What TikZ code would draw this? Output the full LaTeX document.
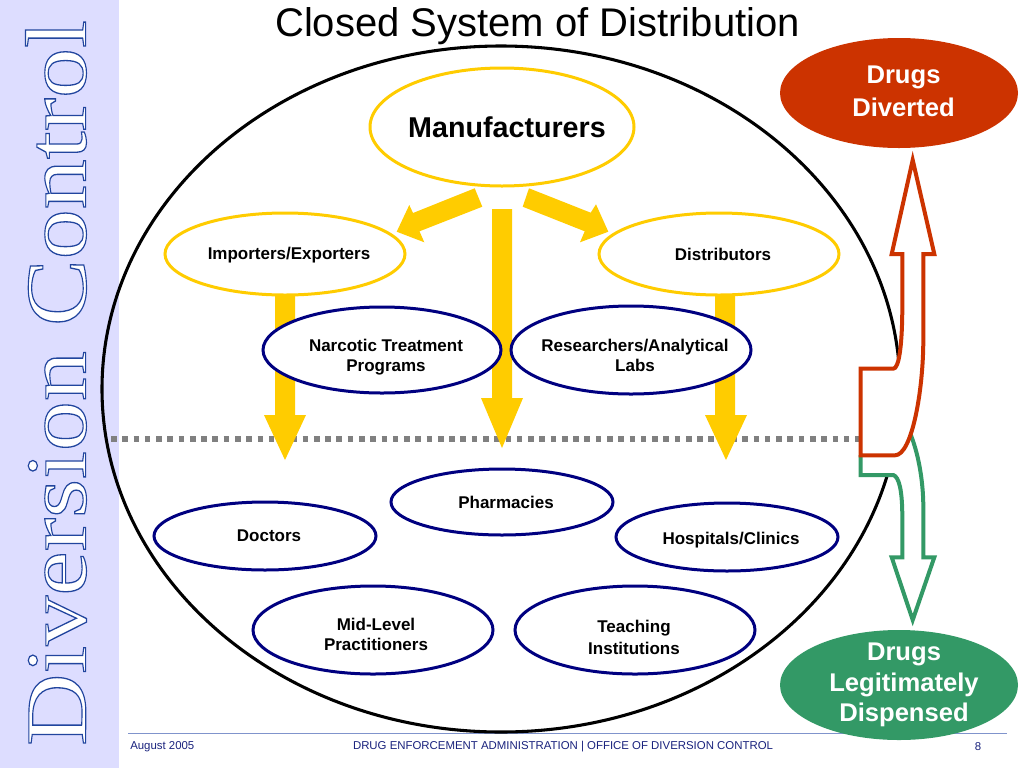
\documentclass[tikz,border=0pt]{standalone}
\usepackage{fontspec}
\usetikzlibrary{shapes.geometric}
\setmainfont{Liberation Sans}
\newfontfamily\outlinefont{Liberation Serif}
\definecolor{panel}{HTML}{DDDDFF}
\definecolor{ygold}{HTML}{FFCC00}
\definecolor{navyb}{HTML}{000080}
\definecolor{redb}{HTML}{CC3300}
\definecolor{greenb}{HTML}{339966}
\definecolor{graydot}{HTML}{808080}
\definecolor{footline}{HTML}{8094CC}
\definecolor{foottext}{HTML}{1A237E}
\newcommand{\fs}[2]{\fontsize{#1}{#2}\selectfont}
\tikzset{
  x=0.75pt,y=-0.75pt,
  oval/.style={ellipse,inner sep=0pt,outer sep=0pt},
  yoval/.style={oval,draw=ygold,line width=2.25pt,fill=white},
  noval/.style={oval,draw=navyb,line width=2.25pt,fill=white},
  lbl/.style={inner sep=0pt,align=center,font=\fs{12.75}{15}\bfseries,text=black},
  whitelbl/.style={inner sep=0pt,align=center,text=white,font=\fs{19.2}{24.5}\bfseries},
  blockarrow/.style={fill=ygold,draw=none},
  foot/.style={inner sep=0pt,font=\fs{8.56}{10},text=foottext},
}
\begin{document}
\begin{tikzpicture}
\useasboundingbox (0,0) rectangle (1024,768);
\fill[white] (0,0) rectangle (1024,768);
\fill[panel] (0,0) rectangle (119,768);
% outlined vertical title
\node[inner sep=0pt,rotate=90,xscale=1.155] (side) at (56,383)
 {\special{pdf:code q 2 Tr 0.85 w 0.13 0.27 0.62 RG 1 1 1 rg}\outlinefont\fontsize{65}{65}\selectfont Diversion Control\special{pdf:code Q}};
% footer rule
\coordinate (footA) at (128,733);
\coordinate (footB) at (1007,733);
\draw[footline,line width=0.75pt] (footA) -- (footB);
% big ellipse
\node[oval,draw=black,line width=2.3pt,minimum width=598.5pt,minimum height=514.5pt] (big) at (501,389) {};
% dotted line
\coordinate (dotA) at (111,439);
\coordinate (dotB) at (864,439);
\draw[graydot,line width=4.2pt,dash pattern=on 4.2pt off 4.255pt] (dotA) -- (dotB);
% yellow arrows
\fill[blockarrow] (474.7,188.3) -- (482.3,206.7) -- (419.5,231.3) -- (424.3,242.3) -- (396.7,231.7) -- (409.3,205) -- (413,213) -- cycle;
\fill[blockarrow] (529,188.3) -- (522.7,206.7) -- (584.7,231.3) -- (580,242.3) -- (608.3,231.7) -- (596,204.3) -- (590.7,212.7) -- cycle;
\fill[blockarrow] (492,209) -- (512,209) -- (512,398) -- (523,398) -- (502,448) -- (481,398) -- (492,398) -- cycle;
\fill[blockarrow] (275,290) -- (295,290) -- (295,415) -- (306,415) -- (285,460) -- (264,415) -- (275,415) -- cycle;
\fill[blockarrow] (715,290) -- (735,290) -- (735,415) -- (747,415) -- (726,460) -- (705,415) -- (715,415) -- cycle;
% ovals
\node[yoval,minimum width=198pt,minimum height=88.5pt] (manu) at (502,127) {};
\node[yoval,minimum width=180pt,minimum height=61.5pt] (impo) at (285,254) {};
\node[yoval,minimum width=180pt,minimum height=61.5pt] (dist) at (719,254) {};
\node[noval,minimum width=178.5pt,minimum height=64.5pt] (narc) at (382,350) {};
\node[noval,minimum width=180pt,minimum height=66pt] (rese) at (631,350) {};
\node[noval,minimum width=166.5pt,minimum height=49.5pt] (phar) at (502,502) {};
\node[noval,minimum width=166.5pt,minimum height=51pt] (doct) at (265,536) {};
\node[noval,minimum width=166.5pt,minimum height=51pt] (hosp) at (727,537) {};
\node[noval,minimum width=180pt,minimum height=66pt] (midl) at (373,630) {};
\node[noval,minimum width=180pt,minimum height=66pt] (teac) at (635,630) {};
\node[oval,fill=redb,minimum width=178.5pt,minimum height=82.5pt] (dive) at (899,93) {};
\node[oval,fill=greenb,minimum width=178.5pt,minimum height=82.5pt] (legi) at (899,685) {};
% green and red hollow arrows
\draw[greenb,line width=3pt,line join=miter,fill=white]
 (860.7,455) -- (860.7,475) -- (893.3,475) .. controls (899,477) and (902.3,490) .. (902.3,517)
 -- (902.3,557.3) -- (891.7,557.3) -- (912.7,620) -- (934.3,557.3) -- (923.3,557.3) -- (923.3,507)
 .. controls (923.3,480) and (918,452) .. (910,433);
\draw[redb,line width=3pt,line join=miter,fill=white]
 (912.7,160) -- (934.3,254) -- (923.3,254) -- (923.3,340)
 .. controls (923.3,390) and (912,455.3) .. (895,455.3)
 -- (860.7,455.3) -- (860.7,368.7) -- (893.3,368.7)
 .. controls (899,368.7) and (902.3,345) .. (902.3,306)
 -- (902.3,254) -- (891.7,254) -- cycle;
% title
\node[inner sep=0pt,font=\fs{30}{32},text=black] (title) at (537.5,26) {Closed System of Distribution};
% labels
\node[lbl,font=\fs{21.5}{24}\bfseries] (manuT) at (507,127) {Manufacturers};
\node[lbl] (impoT) at (289,255) {Importers/Exporters};
\node[lbl] (distT) at (723,254) {Distributors};
\node[lbl] (narcT) at (386,357) {Narcotic Treatment\\Programs};
\node[lbl] (reseT) at (635,355) {Researchers/Analytical\\Labs};
\node[lbl] (pharT) at (506,502) {Pharmacies};
\node[lbl] (doctT) at (269,536) {Doctors};
\node[lbl] (hospT) at (731,540) {Hospitals/Clinics};
\node[lbl] (midlT) at (376,634) {Mid-Level\\Practitioners};
\node[lbl] (teacT) at (634,637) {Teaching\\[1.5pt]Institutions};
\node[whitelbl] (diveT) at (903.5,91) {Drugs\\Diverted};
\node[whitelbl,font=\fs{19.2}{23}\bfseries] (legiT) at (904,685) {Drugs\\Legitimately\\Dispensed};
% footer
\node[foot,anchor=west] (footL) at (130,747) {August 2005};
\node[foot] (footC) at (563,747) {DRUG ENFORCEMENT ADMINISTRATION | OFFICE OF DIVERSION CONTROL};
\node[foot] (footR) at (978,747) {8};
\end{tikzpicture}
\end{document}
